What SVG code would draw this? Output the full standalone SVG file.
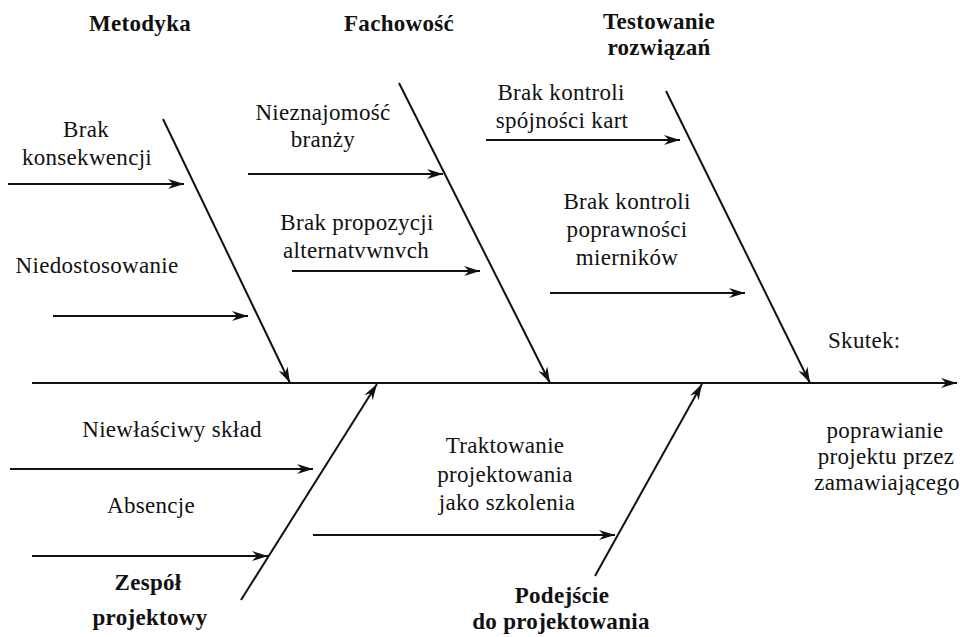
<svg xmlns="http://www.w3.org/2000/svg" width="962" height="637" viewBox="0 0 962 637">
<style>
  .t { font-family: "Liberation Serif", "Times New Roman", serif; font-size: 23px; fill: #111; text-anchor: middle; letter-spacing: 0.3px; }
  .b { font-weight: bold; }
  .l { text-anchor: start; }
  .c line { stroke: #111; stroke-width: 2; fill: none; }
  .c .a { marker-end: url(#ah); }
</style>
<defs>
  <marker id="ah" viewBox="0 0 16 10" refX="16" refY="5" markerWidth="16" markerHeight="10" markerUnits="userSpaceOnUse" orient="auto">
    <path d="M0,0 L16,5 L0,10 L5,5 Z" fill="#111"/>
  </marker>
</defs>
<rect width="962" height="637" fill="#fff"/>
<g id="connectors" class="c">
  <line class="a" x1="32" y1="383" x2="957" y2="383"/>
  <line class="a" x1="163" y1="119" x2="290" y2="383"/>
  <line class="a" x1="399" y1="83" x2="550" y2="383"/>
  <line class="a" x1="666" y1="91" x2="810" y2="383"/>
  <line class="a" x1="241" y1="600" x2="377" y2="384"/>
  <line class="a" x1="595" y1="576" x2="702" y2="384"/>
  <line class="a" x1="8" y1="184" x2="184" y2="184"/>
  <line class="a" x1="53" y1="316" x2="248" y2="316"/>
  <line class="a" x1="248" y1="174" x2="443" y2="174"/>
  <line class="a" x1="292" y1="271" x2="480" y2="271"/>
  <line class="a" x1="486" y1="140" x2="680" y2="140"/>
  <line class="a" x1="550" y1="293" x2="745" y2="293"/>
  <line class="a" x1="10" y1="469" x2="313" y2="469"/>
  <line class="a" x1="32" y1="556" x2="268" y2="556"/>
  <line class="a" x1="313" y1="535" x2="615" y2="535"/>
</g>
<g id="metodyka"><text class="t b" x="140" y="31">Metodyka</text></g>
<g id="fachowosc"><text class="t b" x="399" y="31">Fachowość</text></g>
<g id="testowanie"><text class="t b" x="659" y="29">Testowanie</text><text class="t b" x="659" y="55">rozwiązań</text></g>
<g id="zespol"><text class="t b" x="148" y="590">Zespół</text><text class="t b" x="150" y="625">projektowy</text></g>
<g id="podejscie"><text class="t b" x="562" y="603">Podejście</text><text class="t b" x="561" y="629">do projektowania</text></g>
<g id="brak-konsekwencji"><text class="t" x="86" y="137">Brak</text><text class="t" x="87" y="165">konsekwencji</text></g>
<g id="niedostosowanie"><text class="t" x="97" y="273">Niedostosowanie</text></g>
<g id="nieznajomosc"><text class="t" x="323" y="120">Nieznajomość</text><text class="t" x="323" y="147">branży</text></g>
<g id="brak-propozycji"><text class="t" x="357" y="230">Brak propozycji</text><text class="t" x="356" y="258">alternatvwnvch</text></g>
<g id="brak-kontroli-spojnosci"><text class="t" x="561" y="100">Brak kontroli</text><text class="t" x="562" y="128">spójności kart</text></g>
<g id="brak-kontroli-poprawnosci"><text class="t" x="627" y="209">Brak kontroli</text><text class="t" x="627" y="237">poprawności</text><text class="t" x="627" y="265">mierników</text></g>
<g id="skutek"><text class="t l" x="828" y="348">Skutek:</text></g>
<g id="poprawianie"><text class="t" x="885" y="438">poprawianie</text><text class="t" x="886" y="464">projektu przez</text><text class="t" x="887" y="490">zamawiającego</text></g>
<g id="niewlasciwy"><text class="t" x="172" y="437">Niewłaściwy skład</text></g>
<g id="absencje"><text class="t" x="151" y="513">Absencje</text></g>
<g id="traktowanie"><text class="t" x="505" y="453">Traktowanie</text><text class="t" x="505" y="482">projektowania</text><text class="t" x="507" y="510">jako szkolenia</text></g>
</svg>
